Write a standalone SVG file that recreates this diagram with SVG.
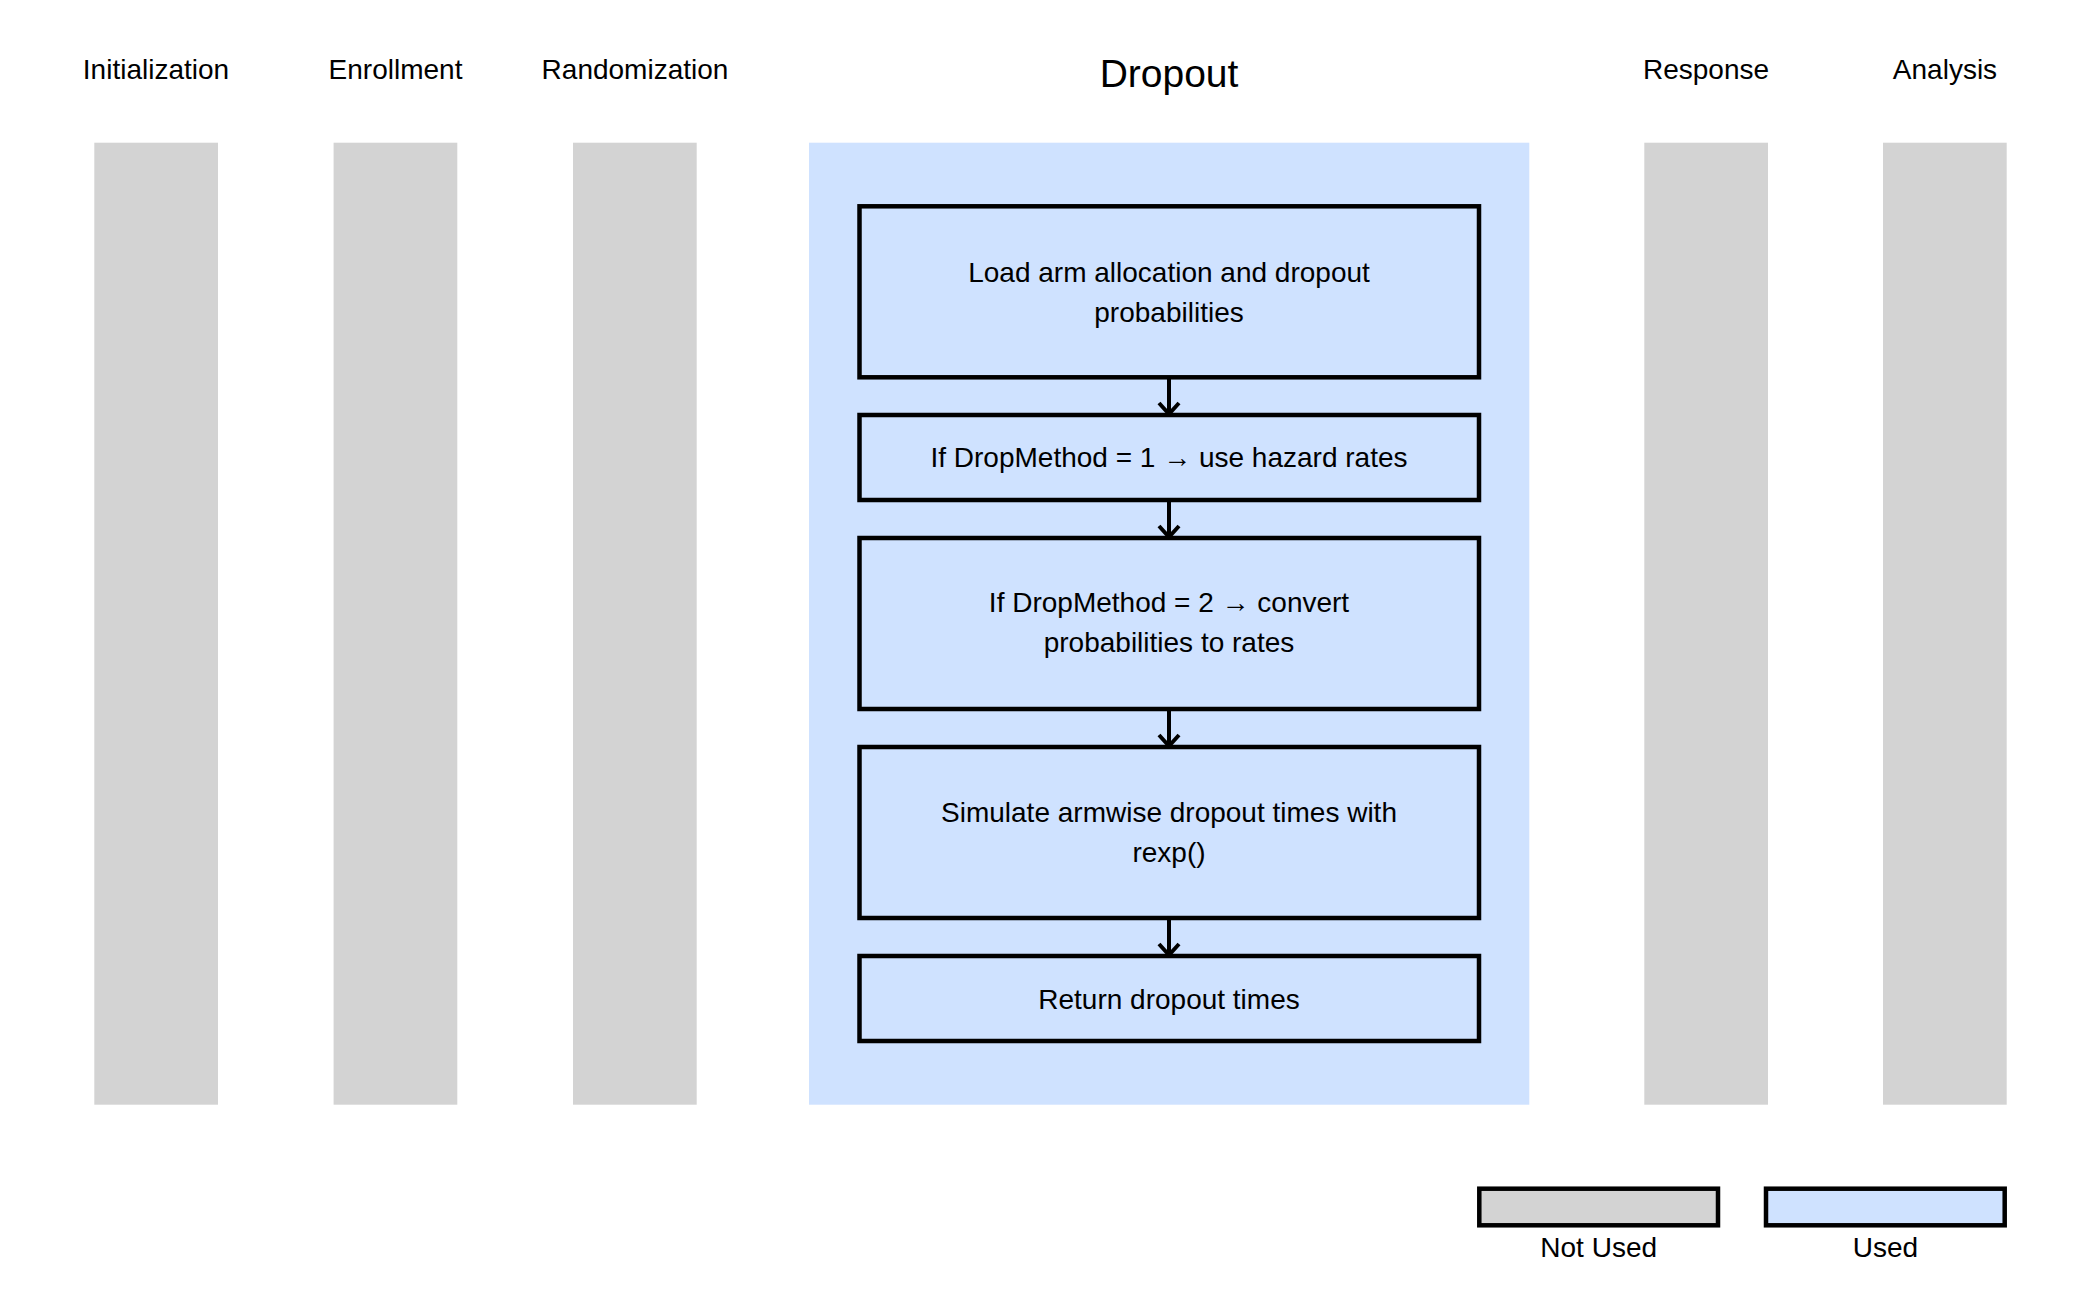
<svg xmlns="http://www.w3.org/2000/svg" width="2100" height="1297" viewBox="0 0 2100 1297">
<defs>
<style>
text{font-family:"Liberation Sans",Arial,sans-serif;fill:#000;text-anchor:middle}
.lbl{font-size:28px}
.title{font-size:39px}
.lane-off{fill:#d3d3d3}
.lane-on{fill:#cfe2ff}
.box{fill:#cfe2ff;stroke:#000;stroke-width:4.5}
.edge{stroke:#000;stroke-width:4;fill:none}
.lg-off{fill:#d3d3d3;stroke:#000;stroke-width:4.5}
.lg-on{fill:#cfe2ff;stroke:#000;stroke-width:4.5}
</style>
<marker id="arr" viewBox="0 0 24 24" refX="21" refY="12" markerWidth="24" markerHeight="24" markerUnits="userSpaceOnUse" orient="auto">
<path d="M10,2 L21,12 L10,22" fill="none" stroke="#000" stroke-width="4"/>
</marker>
</defs>
<rect width="2100" height="1297" fill="#fff"/>
<g id="lane-initialization">
<rect class="lane-off" x="94.3" y="142.7" width="123.7" height="962"/>
<text class="lbl" x="156" y="79">Initialization</text>
</g>
<g id="lane-enrollment">
<rect class="lane-off" x="333.6" y="142.7" width="123.7" height="962"/>
<text class="lbl" x="395.5" y="79">Enrollment</text>
</g>
<g id="lane-randomization">
<rect class="lane-off" x="573" y="142.7" width="123.7" height="962"/>
<text class="lbl" x="635" y="79">Randomization</text>
</g>
<g id="lane-dropout">
<rect class="lane-on" x="809" y="142.7" width="720.3" height="962"/>
<text class="title" x="1169" y="87">Dropout</text>
</g>
<g id="lane-response">
<rect class="lane-off" x="1644.3" y="142.7" width="123.7" height="962"/>
<text class="lbl" x="1706" y="79">Response</text>
</g>
<g id="lane-analysis">
<rect class="lane-off" x="1883" y="142.7" width="123.7" height="962"/>
<text class="lbl" x="1945" y="79">Analysis</text>
</g>
<g id="node-load">
<rect class="box" x="859.5" y="206.3" width="619.5" height="171"/>
<text class="lbl" x="1169" y="282">Load arm allocation and dropout</text>
<text class="lbl" x="1169" y="322">probabilities</text>
</g>
<g id="node-method1">
<rect class="box" x="859.5" y="415" width="619.5" height="85"/>
<text class="lbl" x="1169" y="467">If DropMethod = 1 → use hazard rates</text>
</g>
<g id="node-method2">
<rect class="box" x="859.5" y="538" width="619.5" height="171"/>
<text class="lbl" x="1169" y="612">If DropMethod = 2 → convert</text>
<text class="lbl" x="1169" y="652">probabilities to rates</text>
</g>
<g id="node-simulate">
<rect class="box" x="859.5" y="747" width="619.5" height="171"/>
<text class="lbl" x="1169" y="822">Simulate armwise dropout times with</text>
<text class="lbl" x="1169" y="862">rexp()</text>
</g>
<g id="node-return">
<rect class="box" x="859.5" y="956" width="619.5" height="85"/>
<text class="lbl" x="1169" y="1009">Return dropout times</text>
</g>
<g id="connectors">
<line class="edge" x1="1169" y1="377.3" x2="1169" y2="414" marker-end="url(#arr)"/>
<line class="edge" x1="1169" y1="500" x2="1169" y2="537" marker-end="url(#arr)"/>
<line class="edge" x1="1169" y1="709" x2="1169" y2="746" marker-end="url(#arr)"/>
<line class="edge" x1="1169" y1="918" x2="1169" y2="955" marker-end="url(#arr)"/>
</g>
<g id="legend">
<rect class="lg-off" x="1479.3" y="1188.7" width="238.7" height="36.6"/>
<text class="lbl" x="1598.7" y="1257">Not Used</text>
<rect class="lg-on" x="1766" y="1188.7" width="238.7" height="36.6"/>
<text class="lbl" x="1885.4" y="1257">Used</text>
</g>
</svg>
